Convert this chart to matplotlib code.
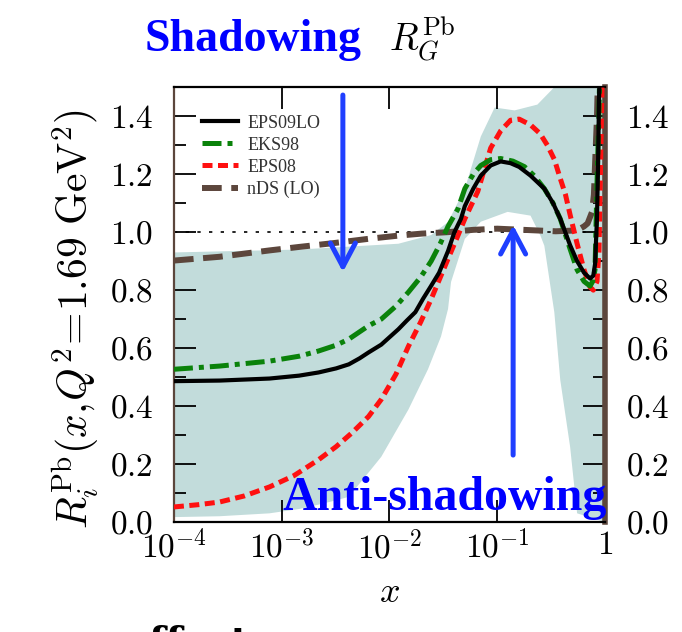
import numpy as np
import matplotlib.pyplot as plt
from matplotlib.ticker import FixedLocator, FixedFormatter, MultipleLocator, NullLocator

plt.rcParams['mathtext.fontset'] = 'cm'
plt.rcParams['font.family'] = ['Liberation Serif', 'DejaVu Serif']

# --- values ---
x_eps09 = [1e-4, 2.65e-4, 7.7e-4, 1.45e-3, 2.2e-3, 3.2e-3, 4.2e-3, 5.3e-3, 6.4e-3, 8.4e-3,
           0.0121, 0.0145, 0.0174, 0.0205, 0.0244, 0.0289, 0.035, 0.0401, 0.0461, 0.0501,
           0.06, 0.0705, 0.087, 0.1077, 0.133, 0.16, 0.204, 0.274, 0.33, 0.385,
           0.475, 0.552, 0.64, 0.728, 0.78, 0.81, 0.844, 0.863, 0.88, 0.9]
r_eps09 = [0.486, 0.488, 0.495, 0.505, 0.516, 0.53, 0.544, 0.565, 0.585, 0.612,
           0.665, 0.695, 0.724, 0.77, 0.815, 0.86, 0.935, 1.0, 1.046, 1.09,
           1.15, 1.195, 1.23, 1.244, 1.238, 1.225, 1.195, 1.15, 1.10, 1.046,
           0.955, 0.90, 0.86, 0.84, 0.85, 0.89, 1.05, 1.23, 1.45, 1.6]

x_eks98 = [1e-4, 2.65e-4, 7.7e-4, 1.45e-3, 2.2e-3, 3.2e-3, 4.2e-3, 6.4e-3, 8.4e-3, 0.0115,
           0.015, 0.0195, 0.0244, 0.0296, 0.035, 0.0432, 0.0501, 0.06, 0.0705, 0.087,
           0.1077, 0.14, 0.179, 0.22, 0.274, 0.33, 0.385, 0.475, 0.552, 0.64,
           0.728, 0.77, 0.809, 0.844, 0.881, 0.9]
r_eks98 = [0.527, 0.538, 0.555, 0.572, 0.59, 0.61, 0.631, 0.677, 0.70, 0.745,
           0.793, 0.845, 0.90, 0.96, 1.02, 1.08, 1.15, 1.20, 1.23, 1.25,
           1.254, 1.245, 1.226, 1.195, 1.15, 1.10, 1.046, 0.942, 0.87, 0.83,
           0.814, 0.83, 0.87, 1.168, 1.42, 1.6]

x_eps08 = [1e-4, 1.7e-4, 2.65e-4, 4.5e-4, 7.7e-4, 1.3e-3, 2.2e-3, 3.2e-3, 4.5e-3, 6.4e-3,
           8.4e-3, 0.0115, 0.015, 0.0195, 0.0244, 0.035, 0.0432, 0.0501, 0.066, 0.087,
           0.108, 0.133, 0.16, 0.204, 0.25, 0.292, 0.34, 0.385, 0.43, 0.475,
           0.552, 0.64, 0.728, 0.78, 0.844, 0.881, 0.95]
r_eps08 = [0.052, 0.06, 0.069, 0.09, 0.121, 0.16, 0.215, 0.26, 0.308, 0.364,
           0.423, 0.51, 0.606, 0.69, 0.769, 0.908, 0.988, 1.046, 1.14, 1.29,
           1.35, 1.386, 1.39, 1.37, 1.34, 1.30, 1.25, 1.185, 1.13, 1.06,
           0.96, 0.87, 0.81, 0.80, 0.83, 0.935, 1.6]

x_nds = [1e-4, 2.65e-4, 7.7e-4, 1.45e-3, 3e-3, 6.4e-3, 0.0121, 0.02, 0.035, 0.06,
         0.1, 0.2, 0.35, 0.552, 0.64, 0.69, 0.76, 0.79, 0.809, 0.844, 0.87]
r_nds = [0.902, 0.915, 0.937, 0.949, 0.962, 0.977, 0.988, 0.995, 1.0, 1.008,
         1.012, 1.007, 1.003, 1.006, 1.02, 1.03, 1.07, 1.13, 1.23, 1.4, 1.6]

# EPS09 uncertainty band
x_band_hi = [1e-4, 1.45e-3, 0.0121, 0.0244, 0.035, 0.0501, 0.0705, 0.0948, 0.145, 0.236,
             0.339, 1.0]
r_band_hi = [0.93, 0.94, 0.96, 0.99, 1.035, 1.15, 1.33, 1.43, 1.42, 1.44,
             1.5, 1.6]
x_band_lo = [1e-4, 2.65e-4, 7.7e-4, 1.45e-3, 2.2e-3, 3.2e-3, 4.2e-3, 8.4e-3, 0.015, 0.0228,
             0.0301, 0.035, 0.0373, 0.0501, 0.0705, 0.125, 0.204, 0.252, 0.274, 0.339,
             0.385, 0.475, 0.552, 1.0]
r_band_lo = [0.017, 0.02, 0.03, 0.045, 0.06, 0.075, 0.087, 0.225, 0.388, 0.527,
             0.64, 0.735, 0.828, 0.977, 1.036, 1.07, 1.057, 0.988, 0.953, 0.724,
             0.49, 0.26, 0.03, 0.0]

xticks = [1e-4, 1e-3, 1e-2, 1e-1, 1]
xticklabels = [r'$10^{-4}$', r'$10^{-3}$', r'$10^{-2}$', r'$10^{-1}$', r'$1$']
yticks = [0.0, 0.2, 0.4, 0.6, 0.8, 1.0, 1.2, 1.4]
yticklabels = [r'$%.1f$' % v for v in yticks]

brown = '#5c463c'
band_col = '#c2dcdb'
arrow_col = '#1f3fff'

fig = plt.figure(figsize=(6.82, 6.32), dpi=100)
ax = fig.add_axes([0.255, 0.174, 0.632, 0.688])
ax.set_xscale('log')
ax.set_xlim(1e-4, 1)
ax.set_ylim(0, 1.5)

# band as one polygon: upper edge then lower edge backwards
ax.fill(list(x_band_hi) + x_band_lo[::-1], list(r_band_hi) + r_band_lo[::-1],
        color=band_col, lw=0, zorder=1)
ax.axhline(1.0, color='black', lw=1.2, ls=(0, (2, 5)), zorder=2)

ax.plot(x_nds, r_nds, color=brown, lw=4.3, ls=(0, (3.3, 1.6)), label='nDS (LO)', zorder=3)
ax.plot(x_eps08, r_eps08, color='#ff1010', lw=3.6, ls=(0, (2.0, 1.1)), label='EPS08', zorder=4)
ax.plot(x_eks98, r_eks98, color='#0a820a', lw=3.6, ls=(0, (3.8, 1.2, 1.0, 1.2)), label='EKS98', zorder=5)
ax.plot(x_eps09, r_eps09, color='black', lw=3.0, label='EPS09LO', zorder=6)

# legend order as in picture
h, l = ax.get_legend_handles_labels()
order = [3, 2, 1, 0]
leg = ax.legend([h[i] for i in order], [l[i] for i in order], loc='upper left',
                bbox_to_anchor=(0.065, 0.937), frameon=False, fontsize=13,
                handlelength=2.0, handletextpad=0.5, labelspacing=0.28,
                borderpad=0, borderaxespad=0)
for t in leg.get_texts():
    t.set_color('#333333')

# ticks
ax.xaxis.set_major_locator(FixedLocator(xticks))
ax.xaxis.set_major_formatter(FixedFormatter(xticklabels))
ax.xaxis.set_minor_locator(NullLocator())
ax.yaxis.set_major_locator(FixedLocator(yticks))
ax.yaxis.set_major_formatter(FixedFormatter(yticklabels))
ax.yaxis.set_minor_locator(MultipleLocator(0.1))
ax.tick_params(which='both', direction='in', top=True, right=True, width=1.3)
ax.tick_params(which='major', length=16, labelsize=24)
ax.tick_params(which='minor', length=8.5)
ax.tick_params(axis='y', labelright=True, pad=15)
ax.tick_params(axis='x', pad=6)

for s in ['top', 'bottom']:
    ax.spines[s].set_linewidth(1.6)
ax.spines['left'].set_color(brown)
ax.spines['left'].set_linewidth(1.6)
ax.spines['right'].set_color(brown)
ax.spines['right'].set_linewidth(4)
ax.spines['right'].set_linestyle((0, (3, 1)))

ax.set_xlabel(r'$x$', fontsize=26, labelpad=8)
fig.text(0.11, 0.495, r'$R_i^{\rm Pb}(x,\!Q^2\!=\!1.69\ {\rm GeV}^2)$', rotation=90,
         fontsize=30, ha='center', va='center')

# annotations
fig.text(0.371, 0.937, 'Shadowing', color='blue', fontsize=33, fontweight='bold',
         ha='center', va='center')
fig.text(0.619, 0.937, r'$R_G^{\rm Pb}$', fontsize=27, ha='center', va='center')
ax.text(0.629, 0.055, 'Anti-shadowing', transform=ax.transAxes, color='blue',
        fontsize=34.5, fontweight='bold', ha='center', va='center', zorder=10)

arrow_kw = dict(arrowstyle='->,head_length=0.85,head_width=0.45', lw=3.6,
                color=arrow_col, shrinkA=0, shrinkB=0, mutation_scale=20)
ax.annotate('', xy=(0.392, 0.575), xytext=(0.392, 0.982), xycoords='axes fraction',
            arrowprops=arrow_kw, zorder=9)
ax.annotate('', xy=(0.787, 0.683), xytext=(0.787, 0.154), xycoords='axes fraction',
            arrowprops=arrow_kw, zorder=9)

# caption text that runs off the bottom edge in the reference
fig.text(0.183, -0.036, 'effect', fontsize=28, fontweight='bold',
         family='DejaVu Serif', ha='left', va='baseline')

fig.savefig('out.png', dpi=100)
